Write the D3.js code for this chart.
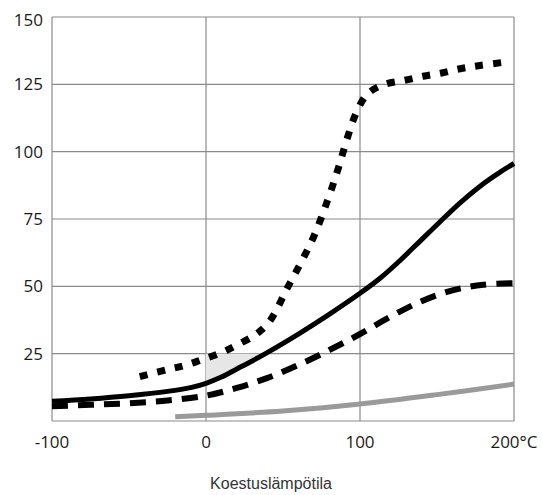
<!DOCTYPE html>
<html><head><meta charset="utf-8">
<script src="https://cdn.jsdelivr.net/npm/d3@7"></script>
<style>body{margin:0;background:#fff}svg{display:block}</style>
</head><body>
<svg id="c" width="542" height="495"></svg>
<script>
const xTicks = [-100, 0, 100, 200];
const xTickLabels = ["-100", "0", "100", "200°C"];
const yTicks = [25, 50, 75, 100, 125, 150];
const xTitle = "Koestuslämpötila";

const solidX = [-100, -75, -50, -25, -10, 0, 10, 20, 30, 40, 60, 80, 100, 113, 126, 139, 152, 165, 178, 191, 200];
const solidY = [7.3, 8.2, 9.4, 11, 12.4, 14, 16.3, 19.3, 22.3, 25.5, 32.3, 39.6, 47.4, 53, 59.6, 66.8, 74, 81, 87.2, 92.4, 95.6];

const dottedX = [-43, -26, -14, -3, 10, 20, 31, 36, 41, 46, 52, 60, 70, 79, 86, 92, 98, 105, 116, 129, 141, 153, 165, 178, 195];
const dottedY = [16.5, 19, 20.6, 22.7, 25.4, 28.2, 31.6, 33.8, 36.8, 41.5, 48.5, 57, 68.5, 82, 94, 105.5, 115, 121.5, 125, 126.5, 128, 129.2, 130.8, 132, 133.3];

const dashedX = [-100, -75, -50, -25, 0, 20, 40, 60, 80, 100, 120, 140, 160, 180, 200];
const dashedY = [5.5, 6, 6.6, 7.6, 9.4, 12.3, 16, 20.8, 26.3, 32.3, 38.8, 44.5, 48.5, 50.6, 51.2];

const greyX = [-20, 0, 50, 100, 150, 200];
const greyY = [1.6, 2.1, 3.7, 6.3, 9.8, 13.7];

const shadeX = [0, 40];
const shadeY = [0, 25];

const svg = d3.select("#c");
const x = d3.scaleLinear().domain([-100, 200]).range([52, 514]);
const y = d3.scaleLinear().domain([0, 150]).range([421, 17]);

const gridColor = "#8a8a8a";
const g = svg.append("g");
g.selectAll(".hg").data(yTicks).join("line")
  .attr("x1", x(-100)).attr("x2", x(200))
  .attr("y1", d => y(d)).attr("y2", d => y(d))
  .attr("stroke", gridColor).attr("stroke-width", 1.2);
g.selectAll(".vg").data(xTicks).join("line")
  .attr("y1", y(0)).attr("y2", y(150))
  .attr("x1", d => x(d)).attr("x2", d => x(d))
  .attr("stroke", gridColor).attr("stroke-width", 1.2);
g.append("line").attr("x1", x(-100)).attr("x2", x(200)).attr("y1", y(0)).attr("y2", y(0))
  .attr("stroke", gridColor).attr("stroke-width", 1.2);

const curve = d3.curveCatmullRom.alpha(0.5);
const solidPts = solidX.map((d, i) => [d, solidY[i]]);
const clip = svg.append("defs").append("clipPath").attr("id", "above");
clip.append("path").attr("d", d3.area().x(d => x(d[0])).y0(d => y(d[1])).y1(y(150)).curve(curve)(solidPts));
svg.append("rect").attr("clip-path", "url(#above)")
  .attr("x", x(shadeX[0])).attr("width", x(shadeX[1]) - x(shadeX[0]))
  .attr("y", y(shadeY[1])).attr("height", y(shadeY[0]) - y(shadeY[1]))
  .attr("fill", "#e6e6e6");

const line = d3.line().x(d => x(d[0])).y(d => y(d[1])).curve(curve);
function draw(xs, ys, opts) {
  svg.append("path").attr("d", line(xs.map((d, i) => [d, ys[i]])))
    .attr("fill", "none").attr("stroke", opts.color).attr("stroke-width", opts.w)
    .attr("stroke-dasharray", opts.dash || null).attr("stroke-linecap", "butt");
}
draw(greyX, greyY, {color: "#9a9a9a", w: 5});
draw(dashedX, dashedY, {color: "#000", w: 6, dash: "16 10"});
draw(dottedX, dottedY, {color: "#000", w: 7, dash: "8 10"});
draw(solidX, solidY, {color: "#000", w: 5});

svg.selectAll(".yl").data(yTicks).join("text")
  .attr("x", 43).attr("y", d => y(d) + (d === 150 ? 3 : 0)).attr("dy", "0.35em")
  .attr("text-anchor", "end").attr("font-family", "Open Sans, sans-serif")
  .attr("font-size", 17).attr("fill", "#1a1a1a").text(d => d);
svg.selectAll(".xl").data(xTicks).join("text")
  .attr("x", d => x(d)).attr("y", 448)
  .attr("text-anchor", "middle").attr("font-family", "Open Sans, sans-serif")
  .attr("font-size", 17).attr("fill", "#1a1a1a").text((d, i) => xTickLabels[i]);
svg.append("text").attr("x", 271).attr("y", 489).attr("text-anchor", "middle")
  .attr("font-family", "Liberation Sans, Arial, sans-serif").attr("font-size", 16)
  .attr("fill", "#333").text(xTitle);
</script>
</body></html>
